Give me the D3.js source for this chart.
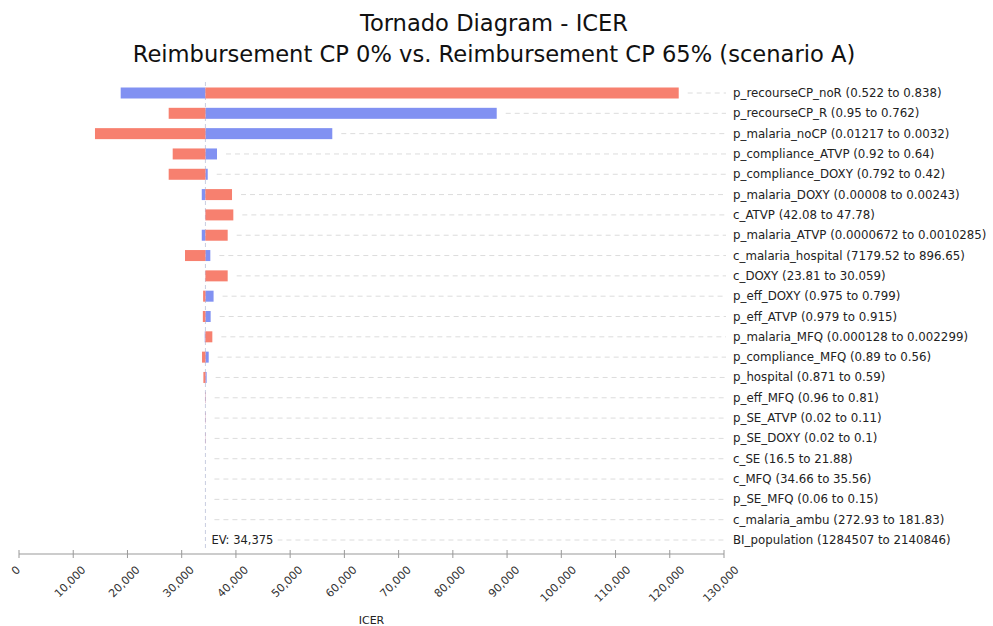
<!DOCTYPE html>
<html>
<head>
<meta charset="utf-8">
<script src="https://cdn.jsdelivr.net/npm/d3@7"></script>
<style>
  body { margin: 0; background: #fff; }
  svg { display: block; font-family: "DejaVu Sans", sans-serif; }
</style>
</head>
<body>
<svg id="chart" width="993" height="626"></svg>
<script>
// parameter names, top to bottom
const params = ['p_recourseCP_noR', 'p_recourseCP_R', 'p_malaria_noCP', 'p_compliance_ATVP',
    'p_compliance_DOXY', 'p_malaria_DOXY', 'c_ATVP', 'p_malaria_ATVP', 'c_malaria_hospital',
    'c_DOXY', 'p_eff_DOXY', 'p_eff_ATVP', 'p_malaria_MFQ', 'p_compliance_MFQ', 'p_hospital',
    'p_eff_MFQ', 'p_SE_ATVP', 'p_SE_DOXY', 'c_SE', 'c_MFQ', 'p_SE_MFQ', 'c_malaria_ambu',
    'BI_population'];

// ranges as printed next to each row
const rangeText = ['0.522 to 0.838', '0.95 to 0.762', '0.01217 to 0.0032', '0.92 to 0.64',
    '0.792 to 0.42', '0.00008 to 0.00243', '42.08 to 47.78', '0.0000672 to 0.0010285',
    '7179.52 to 896.65', '23.81 to 30.059', '0.975 to 0.799', '0.979 to 0.915',
    '0.000128 to 0.002299', '0.89 to 0.56', '0.871 to 0.59', '0.96 to 0.81', '0.02 to 0.11',
    '0.02 to 0.1', '16.5 to 21.88', '34.66 to 35.56', '0.06 to 0.15', '272.93 to 181.83',
    '1284507 to 2140846'];

// ICER at each end of the range (blue / red bar ends)
const blueIcer = [18750, 88090, 57770, 36510, 34800, 33700, 34330, 33700, 35280, 34350,
    35880, 35340, 34250, 34980, 34600, 34420, 34410, 34405, 34375, 34375, 34375, 34375, 34375];
const redIcer = [121650, 27600, 14010, 28340, 27600, 39280, 39520, 38480, 30610, 38480,
    33950, 33900, 35650, 33750, 34000, 34330, 34340, 34345, 34375, 34375, 34375, 34375, 34375];

const ev = 34375;
const xTicks = d3.range(0, 130001, 10000);

const svg = d3.select('#chart');
const blue = '#8191f2',
      red = '#f7806f';

const x = d3.scaleLinear().domain([0, 130000]).range([19, 724]);
const y = d3.scalePoint().domain(params).range([93, 540]);
const barH = 11;
const axisY = 554;

// titles
svg.append('text')
    .attr('x', 494).attr('y', 31)
    .attr('text-anchor', 'middle')
    .attr('font-size', 22.6).attr('fill', '#111')
    .text('Tornado Diagram - ICER');
svg.append('text')
    .attr('x', 494).attr('y', 62)
    .attr('text-anchor', 'middle')
    .attr('font-size', 22.6).attr('fill', '#111')
    .text('Reimbursement CP 0% vs. Reimbursement CP 65% (scenario A)');

const rows = params.map((p, i) => ({
    name: p,
    label: p + ' (' + rangeText[i] + ')',
    blue: blueIcer[i],
    red: redIcer[i]
}));

// dashed guide lines from bar end to labels
svg.append('g')
    .selectAll('line')
    .data(rows)
    .enter().append('line')
    .attr('x1', d => x(Math.max(d.blue, d.red, ev)) + 9)
    .attr('x2', 726)
    .attr('y1', d => y(d.name))
    .attr('y2', d => y(d.name))
    .attr('stroke', '#dcdcdc')
    .attr('stroke-dasharray', '5,4');

// EV reference line
svg.append('line')
    .attr('x1', x(ev)).attr('x2', x(ev))
    .attr('y1', 82).attr('y2', axisY - 3)
    .attr('stroke', '#c9cde0')
    .attr('stroke-dasharray', '4,3');

const bars = svg.append('g');
bars.selectAll('rect.blue')
    .data(rows)
    .enter().append('rect')
    .attr('class', 'blue')
    .attr('x', d => x(Math.min(d.blue, ev)))
    .attr('width', d => Math.abs(x(d.blue) - x(ev)))
    .attr('y', d => y(d.name) - barH / 2)
    .attr('height', barH)
    .attr('fill', blue);
bars.selectAll('rect.red')
    .data(rows)
    .enter().append('rect')
    .attr('class', 'red')
    .attr('x', d => x(Math.min(d.red, ev)))
    .attr('width', d => Math.abs(x(d.red) - x(ev)))
    .attr('y', d => y(d.name) - barH / 2)
    .attr('height', barH)
    .attr('fill', red);

// row labels
svg.append('g')
    .selectAll('text')
    .data(rows)
    .enter().append('text')
    .attr('x', 733)
    .attr('y', d => y(d.name) + 4)
    .attr('font-size', 11.8)
    .attr('fill', '#222')
    .text(d => d.label);

// EV label on a white patch
const evG = svg.append('g');
const evBg = evG.append('rect').attr('fill', '#fff');
const evText = evG.append('text')
    .attr('x', x(ev) + 6)
    .attr('y', y('BI_population') + 4)
    .attr('font-size', 11.5)
    .attr('fill', '#222')
    .text('EV: ' + d3.format(',')(ev));
const bb = evText.node().getBBox();
evBg.attr('x', bb.x - 2).attr('y', bb.y)
    .attr('width', bb.width + 6).attr('height', bb.height);

// x axis
const axis = svg.append('g')
    .attr('transform', `translate(0,${axisY})`);
axis.append('line')
    .attr('x1', x(0)).attr('x2', x(130000))
    .attr('stroke', '#999').attr('stroke-width', 1.2);
axis.selectAll('line.tick')
    .data(xTicks)
    .enter().append('line')
    .attr('class', 'tick')
    .attr('x1', d => x(d)).attr('x2', d => x(d))
    .attr('y1', -4).attr('y2', 4)
    .attr('stroke', '#999');

const fmt = d3.format(',');
axis.selectAll('text.tl')
    .data(xTicks)
    .enter().append('text')
    .attr('class', 'tl')
    .attr('font-size', 11)
    .attr('fill', '#333')
    .attr('text-anchor', 'middle')
    .attr('dominant-baseline', 'central')
    .text(d => fmt(d))
    .attr('transform', function(d) {
        const len = this.getComputedTextLength();
        const half = (len + 9) * 0.7071 / 2;
        return `translate(${x(d) - 3},${11 + half}) rotate(-45)`;
    });

svg.append('text')
    .attr('x', (x(0) + x(130000)) / 2)
    .attr('y', 624)
    .attr('text-anchor', 'middle')
    .attr('font-size', 11)
    .attr('fill', '#222')
    .text('ICER');
</script>
</body>
</html>
